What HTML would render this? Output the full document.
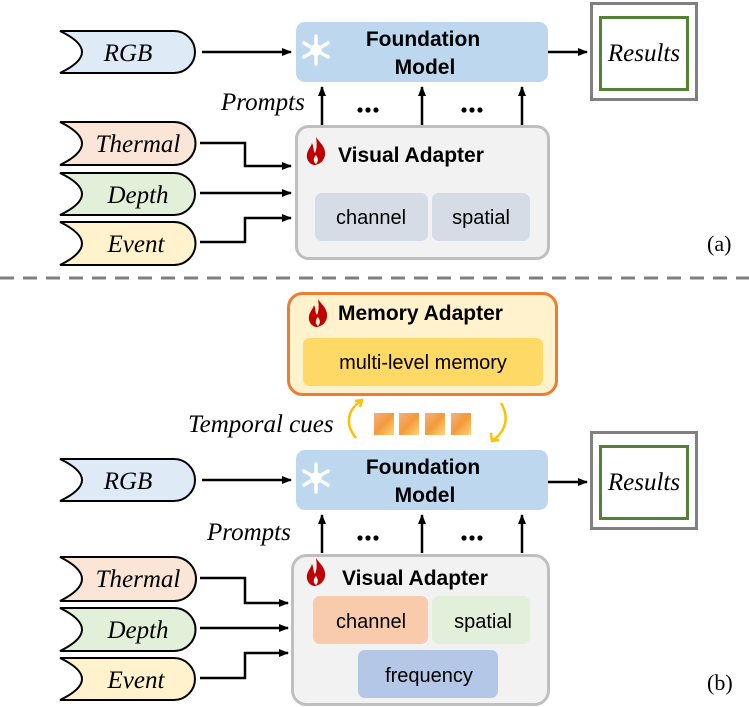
<!DOCTYPE html>
<html><head><meta charset="utf-8"><style>html,body{margin:0;padding:0;background:#fff}svg{display:block}</style></head>
<body>
<svg width="749" height="707" viewBox="0 0 749 707" xmlns="http://www.w3.org/2000/svg">
<defs>
<marker id="ar" markerWidth="10" markerHeight="10" refX="9" refY="5" orient="auto" markerUnits="userSpaceOnUse"><path d="M0,1 L10,5 L0,9 Z" fill="#000"/></marker>
<linearGradient id="sq" x1="0" y1="0" x2="1" y2="1"><stop offset="0" stop-color="#f4b183"/><stop offset="0.5" stop-color="#f39a3a"/><stop offset="1" stop-color="#ffd37a"/></linearGradient>
<g id="flame"><path d="M10,0 C14,6 20,10 19,18 C18,25 12,28 8,28 C3,27 0,22 1,17 C2,12 5,10 6,6 C8,10 7,14 9,16 C11,12 11,6 10,0 Z M10,27 C7,25 7,21 10,18 C12,21 13,24 10,27 Z" fill="#c00000" fill-rule="evenodd"/></g>
<g id="snow" stroke="#fff" stroke-width="3.5" stroke-linecap="round"><line x1="0" y1="-14" x2="0" y2="14"/><line x1="-12" y1="-7" x2="12" y2="7"/><line x1="-12" y1="7" x2="12" y2="-7"/><circle r="4" fill="#fff"/></g>
<g id="dots"><circle cx="-8" cy="0" r="2.6"/><circle cx="0" cy="0" r="2.6"/><circle cx="8" cy="0" r="2.6"/></g>
</defs>
<style>
.pill{stroke:#000;stroke-width:2}
.it{font-family:"Liberation Serif",serif;font-style:italic;font-size:25px}
.b{font-family:"Liberation Sans",sans-serif;font-weight:bold;font-size:21px}
.n{font-family:"Liberation Sans",sans-serif;font-size:20px}
.ln{stroke:#000;stroke-width:2.5;fill:none}
</style>

<!-- ===== (a) ===== -->
<path class="pill" fill="#deebf7" d="M60,31 H174 A21,21 0 0 1 174,73 H60 Q104,52 60,31 Z"/>
<text class="it" x="128" y="61" text-anchor="middle">RGB</text>
<path class="pill" fill="#fbe5d6" d="M60,122 H174 A21.5,21.5 0 0 1 174,165 H60 Q104,143.5 60,122 Z"/>
<text class="it" x="138" y="152" text-anchor="middle">Thermal</text>
<path class="pill" fill="#e2f0d9" d="M60,173 H174 A21,21 0 0 1 174,215 H60 Q104,194 60,173 Z"/>
<text class="it" x="138" y="203" text-anchor="middle">Depth</text>
<path class="pill" fill="#fff2cc" d="M60,222 H174 A21.5,21.5 0 0 1 174,265 H60 Q104,243.5 60,222 Z"/>
<text class="it" x="136" y="252" text-anchor="middle">Event</text>

<rect x="296" y="22" width="252" height="60" rx="9" fill="#bdd7ee"/>
<use href="#snow" x="316" y="50"/>
<text class="b" x="423" y="46" text-anchor="middle">Foundation</text>
<text class="b" x="425" y="74" text-anchor="middle">Model</text>
<line class="ln" x1="202" y1="52" x2="291" y2="52" marker-end="url(#ar)"/>
<line class="ln" x1="548" y1="52" x2="587" y2="52" marker-end="url(#ar)"/>
<rect x="591.5" y="3.5" width="105" height="96" fill="#fff" stroke="#808080" stroke-width="3"/>
<rect x="600.5" y="17.5" width="87" height="72" fill="#fff" stroke="#548235" stroke-width="3"/>
<text class="it" x="644" y="61" text-anchor="middle">Results</text>

<text class="it" x="221" y="110">Prompts</text>
<line class="ln" x1="322" y1="125" x2="322" y2="87" marker-end="url(#ar)"/>
<line class="ln" x1="422" y1="125" x2="422" y2="87" marker-end="url(#ar)"/>
<line class="ln" x1="522" y1="125" x2="522" y2="87" marker-end="url(#ar)"/>
<use href="#dots" x="368" y="110"/>
<use href="#dots" x="472" y="110"/>

<rect x="296.5" y="126.5" width="252" height="132" rx="12" fill="#f2f2f2" stroke="#bfbfbf" stroke-width="3"/>
<use href="#flame" x="306" y="137"/>
<text class="b" x="338" y="162">Visual Adapter</text>
<rect x="315" y="193" width="113" height="48" rx="7" fill="#d6dce5"/>
<rect x="432" y="193" width="98" height="48" rx="7" fill="#d6dce5"/>
<text class="n" x="371" y="224" text-anchor="middle">channel</text>
<text class="n" x="481" y="224" text-anchor="middle">spatial</text>
<polyline class="ln" points="200,143 245,143 245,166 291,166" marker-end="url(#ar)"/>
<line class="ln" x1="200" y1="193" x2="291" y2="193" marker-end="url(#ar)"/>
<polyline class="ln" points="200,242 245,242 245,218 291,218" marker-end="url(#ar)"/>
<text font-family="Liberation Serif,serif" font-size="22" x="707" y="251">(a)</text>

<line x1="0" y1="278" x2="749" y2="278" stroke="#7f7f7f" stroke-width="3" stroke-dasharray="14,9"/>

<!-- ===== (b) ===== -->
<rect x="288.5" y="293.5" width="268" height="101" rx="14" fill="#fff2cc" stroke="#ed7d31" stroke-width="3"/>
<use href="#flame" x="308" y="299"/>
<text class="b" x="338" y="320">Memory Adapter</text>
<rect x="303" y="338" width="240" height="48" rx="7" fill="#ffd966"/>
<text class="n" x="423" y="369" text-anchor="middle">multi-level memory</text>

<text class="it" x="188" y="432">Temporal cues</text>
<path d="M356,438 C345,425 347,410 361,401" stroke="#ffc000" stroke-width="2.5" fill="none"/>
<path d="M355,401 L362,400 L360,407" stroke="#ffc000" stroke-width="2.5" fill="none"/>
<path d="M501,403 C510,418 505,432 493,440" stroke="#ffc000" stroke-width="2.5" fill="none"/>
<path d="M491,433 L492,441 L499,440" stroke="#ffc000" stroke-width="2.5" fill="none"/>
<rect x="374" y="413" width="20" height="22" fill="url(#sq)"/>
<rect x="399" y="413" width="20" height="22" fill="url(#sq)"/>
<rect x="425" y="413" width="20" height="22" fill="url(#sq)"/>
<rect x="451" y="413" width="20" height="22" fill="url(#sq)"/>

<path class="pill" fill="#deebf7" d="M60,459 H174 A21,21 0 0 1 174,501 H60 Q104,480 60,459 Z"/>
<text class="it" x="128" y="489" text-anchor="middle">RGB</text>
<rect x="296" y="450" width="252" height="60" rx="9" fill="#bdd7ee"/>
<use href="#snow" x="316" y="478"/>
<text class="b" x="423" y="474" text-anchor="middle">Foundation</text>
<text class="b" x="425" y="502" text-anchor="middle">Model</text>
<line class="ln" x1="202" y1="480" x2="291" y2="480" marker-end="url(#ar)"/>
<line class="ln" x1="548" y1="482" x2="587" y2="482" marker-end="url(#ar)"/>
<rect x="591.5" y="432.5" width="105" height="96" fill="#fff" stroke="#808080" stroke-width="3"/>
<rect x="600.5" y="446.5" width="87" height="72" fill="#fff" stroke="#548235" stroke-width="3"/>
<text class="it" x="644" y="490" text-anchor="middle">Results</text>

<text class="it" x="207" y="540">Prompts</text>
<line class="ln" x1="322" y1="553" x2="322" y2="515" marker-end="url(#ar)"/>
<line class="ln" x1="422" y1="553" x2="422" y2="515" marker-end="url(#ar)"/>
<line class="ln" x1="522" y1="553" x2="522" y2="515" marker-end="url(#ar)"/>
<use href="#dots" x="368" y="538"/>
<use href="#dots" x="472" y="538"/>

<rect x="292.5" y="555.5" width="256" height="149" rx="14" fill="#f2f2f2" stroke="#bfbfbf" stroke-width="3"/>
<use href="#flame" x="306" y="558"/>
<text class="b" x="342" y="585">Visual Adapter</text>
<rect x="313" y="596" width="115" height="48" rx="7" fill="#f8cbad"/>
<rect x="432" y="596" width="98" height="48" rx="7" fill="#e2efda"/>
<rect x="358" y="650" width="140" height="48" rx="7" fill="#b4c7e7"/>
<text class="n" x="371" y="628" text-anchor="middle">channel</text>
<text class="n" x="483" y="628" text-anchor="middle">spatial</text>
<text class="n" x="429" y="682" text-anchor="middle">frequency</text>

<path class="pill" fill="#fbe5d6" d="M60,557 H174 A22,22 0 0 1 174,601 H60 Q104,579 60,557 Z"/>
<text class="it" x="138" y="587" text-anchor="middle">Thermal</text>
<path class="pill" fill="#e2f0d9" d="M60,608 H174 A21.5,21.5 0 0 1 174,651 H60 Q104,629.5 60,608 Z"/>
<text class="it" x="138" y="638" text-anchor="middle">Depth</text>
<path class="pill" fill="#fff2cc" d="M60,658 H174 A21,21 0 0 1 174,700 H60 Q104,679 60,658 Z"/>
<text class="it" x="136" y="688" text-anchor="middle">Event</text>
<polyline class="ln" points="200,578 245,578 245,603 288,603" marker-end="url(#ar)"/>
<line class="ln" x1="200" y1="628" x2="288" y2="628" marker-end="url(#ar)"/>
<polyline class="ln" points="200,678 245,678 245,653 288,653" marker-end="url(#ar)"/>
<text font-family="Liberation Serif,serif" font-size="22" x="707" y="690">(b)</text>
</svg>
</body></html>
